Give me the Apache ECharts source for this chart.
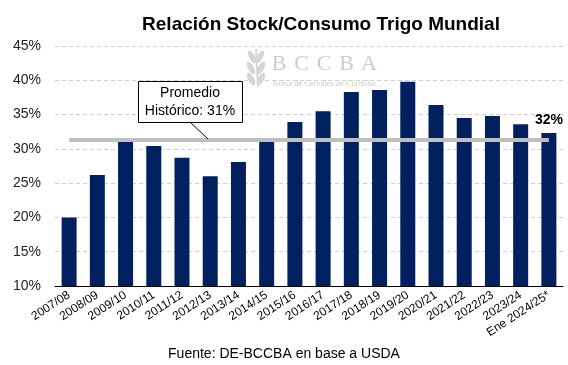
<!DOCTYPE html>
<html><head><meta charset="utf-8">
<script src="https://cdn.jsdelivr.net/npm/echarts@6/dist/echarts.min.js"></script>
<style>html,body{margin:0;padding:0;background:#fff}#c{width:568px;height:365px}</style>
</head><body><div id="c"></div>
<script>
const categories = ['2007/08','2008/09','2009/10','2010/11','2011/12','2012/13','2013/14','2014/15','2015/16','2016/17','2017/18','2018/19','2019/20','2020/21','2021/22','2022/23','2023/24','Ene 2024/25*'];
const ratioValues = [20.0, 26.2, 31.0, 30.4, 28.7, 26.0, 28.1, 31.0, 33.9, 35.5, 38.3, 38.6, 39.8, 36.4, 34.5, 34.8, 33.6, 32.3];
const historicAverage = 31.3;
const yTicks = [10, 15, 20, 25, 30, 35, 40, 45];
const titleText = 'Relación Stock/Consumo Trigo Mundial';
const sourceText = 'Fuente: DE-BCCBA en base a USDA';
const watermarkLetters = ['B', 'C', 'C', 'B', 'A'];

const chart = echarts.init(document.getElementById('c'), null, {renderer: 'canvas'});
const last = ratioValues.length - 1;
const font = 'Liberation Sans, Arial, sans-serif';
const wmColor = '#cdcdcd';
const leaves = [];
[[6,14,0.5],[14,14,-0.5],[5,25,0.5],[15,25,-0.5],[5,36,0.5],[15,36,-0.5]].forEach(l => {
  leaves.push({type: 'ellipse', shape: {cx: 0, cy: 0, rx: 3, ry: 7}, x: l[0], y: l[1], rotation: l[2], style: {fill: '#d6d6d6'}});
});
const wm = watermarkLetters.map((ch, i) => ({
  type: 'text', z: 0, x: 279 + i * 22.5, y: 64, style: {text: ch, font: '22px "Liberation Serif", serif', fill: wmColor, align: 'center', verticalAlign: 'middle'}
}));
chart.setOption({
  animation: false,
  backgroundColor: '#fff',
  title: {
    text: titleText, left: 316, top: 10, textAlign: 'center',
    textStyle: {fontFamily: font, fontSize: 19, fontWeight: 'bold', color: '#000'}
  },
  grid: {left: 55, right: 5, top: 46, bottom: 79, containLabel: false},
  xAxis: {
    type: 'category', data: categories,
    axisLine: {lineStyle: {color: '#000', width: 1}},
    axisTick: {show: false},
    axisLabel: {interval: 0, rotate: 33, fontFamily: font, fontSize: 12, color: '#000', margin: 8}
  },
  yAxis: {
    type: 'value', min: yTicks[0], max: yTicks[yTicks.length - 1], interval: 5,
    axisLine: {show: false}, axisTick: {show: false},
    axisLabel: {formatter: v => v + '%', fontFamily: font, fontSize: 14, color: '#222', margin: 14},
    splitLine: {lineStyle: {color: '#d0d0d0', type: [4, 3], width: 1}}
  },
  series: [{
    type: 'bar', data: ratioValues.map((v, i) => ({
      value: v,
      label: i === last ? {show: true, position: 'top', distance: 6, formatter: p => Math.round(p.value) + '%',
        fontFamily: font, fontSize: 14, fontWeight: 'bold', color: '#000'} : {show: false}
    })),
    barWidth: 15,
    itemStyle: {color: '#002060'},
    z: 2,
    markLine: {
      silent: true, symbol: 'none', label: {show: false},
      lineStyle: {color: '#bfbfbf', width: 4, type: 'solid'},
      data: [[{coord: [categories[0], historicAverage]}, {coord: [categories[last], historicAverage]}]]
    }
  }],
  graphic: wm.concat([
    {type: 'text', z: 0, x: 324, y: 83.5, style: {text: 'Bolsa de Cereales de Córdoba', font: '8.5px "Liberation Serif", serif', fill: '#c8c8c8', align: 'center', verticalAlign: 'middle'}},
    {type: 'group', x: 246, y: 43, z: 0, children: [
      {type: 'line', shape: {x1: 10, y1: 6, x2: 12, y2: 44}, style: {stroke: '#d6d6d6', lineWidth: 2}}
    ].concat(leaves)},
    {type: 'line', z: 10, shape: {x1: 190, y1: 122, x2: 208, y2: 139}, style: {stroke: '#000', lineWidth: 1}},
    {type: 'rect', z: 10, shape: {x: 138.5, y: 81.5, width: 104, height: 41}, style: {fill: '#fff', stroke: '#000', lineWidth: 1}},
    {type: 'text', z: 11, x: 190, y: 93, style: {text: 'Promedio', font: '14px ' + font, fill: '#000', align: 'center', verticalAlign: 'middle'}},
    {type: 'text', z: 11, x: 190, y: 111, style: {text: 'Histórico: 31%', font: '14px ' + font, fill: '#000', align: 'center', verticalAlign: 'middle'}},
    {type: 'text', z: 11, x: 284, y: 354, style: {text: sourceText, font: '14px ' + font, fill: '#000', align: 'center', verticalAlign: 'middle'}}
  ])
});
</script></body></html>
